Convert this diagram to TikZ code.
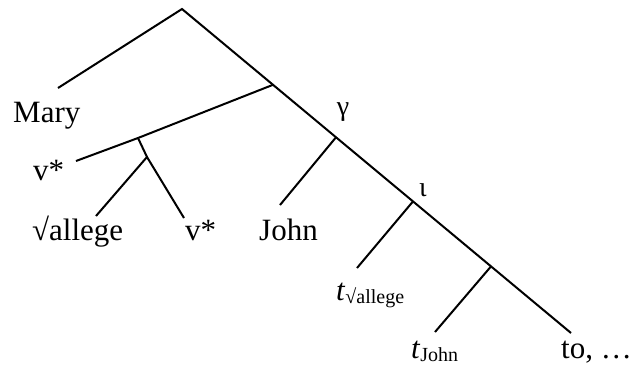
\documentclass[tikz,border=0pt]{standalone}
\usepackage{fontspec}
\setmainfont{Liberation Serif}
\usepackage{tikz}
\newcommand{\lowsub}[1]{\raisebox{-3pt}{\fontsize{20}{24}\selectfont #1}}

\begin{document}
\begin{tikzpicture}[x=1pt,y=-1pt,
      br/.style={line width=2pt},
      lf/.style={anchor=base west,inner sep=0pt,font=\fontsize{31}{36}\selectfont},
      gk/.style={inner sep=0pt,font=\fontsize{28}{32}\selectfont}]
    \useasboundingbox (0,0) rectangle (631,367);
    % spine points
    \coordinate (top) at (182,9);
    \coordinate (vp) at (273,84.8);
    \coordinate (gam) at (336,137.3);
    \coordinate (iot) at (413,201.4);
    \coordinate (low) at (491,266.4);
    \coordinate (foot) at (571,333);
    % inner points and line ends
    \coordinate (vhead) at (138,138);
    \coordinate (vroot) at (147,157);
    \coordinate (e1) at (58,88);
    \coordinate (e2) at (76,161);
    \coordinate (e3) at (96,216);
    \coordinate (e4) at (184,218);
    \coordinate (e5) at (280,205);
    \coordinate (e6) at (357,268);
    \coordinate (e7) at (435,332);
    % labels
    \node[lf] (mary) at (13,122) {Mary};
    \node[lf] (vs1) at (33,180) {v*};
    \node[lf] (root) at (32,240) {√allege};
    \node[lf] (vs2) at (185,240) {v*};
    \node[lf] (john) at (259,240) {John};
    \node[lf] (tr1) at (336,300) {\textit{t}\lowsub{√allege}};
    \node[lf] (tr2) at (411,358) {\textit{t}\lowsub{John}};
    \node[lf] (to) at (561,358) {to, …};
    \node[gk] (lg) at (343,112) {γ};
    \node[gk] (li) at (423,190) {ι};
    % branches
    \draw[br] (e1)--(top)--(foot);
    \draw[br] (vp)--(vhead)--(e2);
    \draw[br] (vhead)--(vroot)--(e4);
    \draw[br] (vroot)--(e3);
    \draw[br] (gam)--(e5);
    \draw[br] (iot)--(e6);
    \draw[br] (low)--(e7);
  \end{tikzpicture}
\end{document}
